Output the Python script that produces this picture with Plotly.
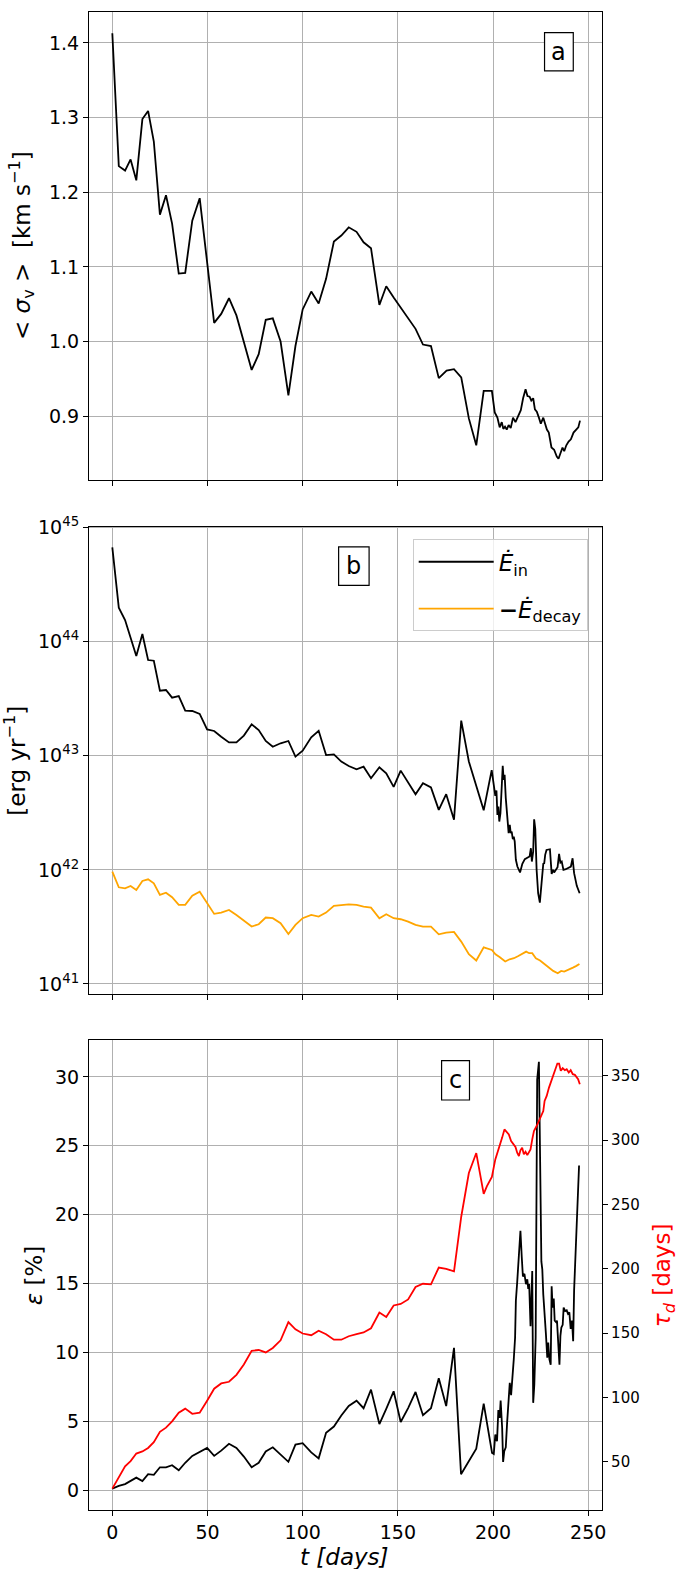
import numpy as np
import plotly.graph_objects as go

# ---------------- data ----------------
# (a) mean velocity dispersion [km/s]
t_sigma = [0, 3.4, 6.7, 9.6, 12.6, 15.8, 18.8, 21.8, 25.0, 28.2, 31.4, 34.9, 38.3, 42.0, 45.9,
           49.8, 53.5, 57.2, 61.3, 65.2, 69.1, 73.2, 76.9, 80.6, 84.3, 88.4, 92.5, 96.2, 100.0,
           104.5, 108.4, 112.3, 116.4, 120.3, 124.2, 128.3, 132.0, 135.9, 140.3, 143.9, 147.8,
           151.5, 155.4, 159.3, 163.2, 167.4, 171.5, 175.6, 179.5, 183.3, 187.3, 191.2, 195.1,
           199.4, 200.9, 202.3, 203.5, 204.6, 205.4, 206.3, 207.2, 208.2, 209.3, 210.5, 211.8,
           213.2, 214.6, 215.8, 217.1, 218.1, 219.2, 220.1, 221.1, 222.0, 223.0, 224.1, 225.1,
           226.4, 227.4, 228.3, 229.3, 230.7, 232.1, 233.5, 234.4, 235.7, 236.5, 237.4, 238.5,
           239.7, 240.9, 242.3, 244.1, 244.8, 245.7]
sigma_v = [1.413, 1.235, 1.229, 1.244, 1.216, 1.298, 1.309, 1.268, 1.170, 1.196, 1.158, 1.091,
           1.092, 1.162, 1.192, 1.103, 1.025, 1.037, 1.058, 1.035, 1.000, 0.962, 0.983, 1.029,
           1.031, 1.000, 0.928, 0.994, 1.043, 1.067, 1.051, 1.084, 1.134, 1.142, 1.153, 1.147,
           1.133, 1.125, 1.049, 1.074, 1.059, 1.045, 1.032, 1.017, 0.996, 0.994, 0.951, 0.961,
           0.963, 0.952, 0.897, 0.861, 0.934, 0.934, 0.905, 0.898, 0.885, 0.892, 0.883, 0.886,
           0.882, 0.888, 0.884, 0.898, 0.892, 0.900, 0.908, 0.924, 0.936, 0.927, 0.926, 0.921,
           0.924, 0.909, 0.906, 0.898, 0.890, 0.898, 0.889, 0.882, 0.878, 0.858, 0.855, 0.846,
           0.843, 0.854, 0.858, 0.853, 0.861, 0.866, 0.869, 0.878, 0.883, 0.885, 0.894]

# (b) energy injection rate, log10 [erg/yr]
t_ein = [0, 3.4, 6.7, 9.6, 12.6, 15.8, 18.8, 21.8, 25.0, 28.2, 31.4, 34.9, 38.3, 42.0, 45.9,
         49.8, 53.5, 57.2, 61.3, 65.2, 69.1, 73.2, 76.9, 80.6, 84.3, 88.4, 92.5, 96.2, 100.0,
         104.5, 108.4, 112.3, 116.4, 120.3, 124.2, 128.3, 132.0, 135.9, 140.3, 143.9, 147.8,
         151.5, 155.4, 159.3, 163.2, 167.4, 171.5, 175.4, 179.5, 183.3, 187.3, 191.2, 195.1,
         199.3, 200.7, 201.2, 201.8, 202.3, 202.8, 203.3, 203.9, 204.4, 205.1, 205.6, 206.1,
         206.7, 207.2, 207.9, 208.2, 208.8, 209.3, 209.8, 210.4, 210.9, 211.4, 212.0, 212.8,
         214.2, 215.4, 216.7, 218.1, 219.2, 219.9, 220.4, 221.1, 221.6, 222.2, 222.9, 223.7,
         224.6, 225.5, 226.4, 226.9, 227.4, 228.1, 229.0, 229.9, 230.8, 231.5, 232.1, 233.0,
         233.9, 234.7, 235.4, 236.1, 237.0, 238.2, 239.5, 240.9, 241.8, 242.6, 244.0, 245.5]
log_e_in = [44.828, 44.299, 44.191, 44.045, 43.875, 44.068, 43.840, 43.834, 43.571, 43.577,
            43.510, 43.524, 43.396, 43.393, 43.367, 43.232, 43.218, 43.168, 43.118, 43.118,
            43.177, 43.276, 43.226, 43.130, 43.080, 43.110, 43.130, 42.993, 43.045, 43.162,
            43.220, 43.007, 43.013, 42.949, 42.911, 42.882, 42.905, 42.803, 42.900, 42.847,
            42.728, 42.870, 42.770, 42.663, 42.760, 42.723, 42.526, 42.664, 42.440, 43.309,
            42.950, 42.730, 42.522, 42.874, 42.700, 42.649, 42.696, 42.482, 42.556, 42.424,
            42.497, 42.643, 42.912, 42.789, 42.833, 42.629, 42.541, 42.409, 42.322, 42.395,
            42.322, 42.336, 42.269, 42.292, 42.249, 42.088, 42.029, 41.977, 42.053, 42.094,
            42.111, 42.117, 42.190, 42.073, 42.161, 42.444, 42.357, 42.000, 41.795, 41.713,
            41.883, 42.053, 42.058, 42.132, 42.175, 42.181, 42.181, 41.965, 42.000, 41.977,
            42.006, 42.023, 42.140, 42.064, 42.073, 42.000, 42.006, 42.015, 42.029, 42.102,
            41.971, 41.860, 41.795]

# (b) turbulent energy decay rate, log10 [erg/yr]
t_decay = [0, 3.4, 6.7, 9.6, 12.6, 15.8, 18.8, 21.8, 25.0, 28.2, 31.4, 34.9, 38.3, 42.0, 45.9,
           49.8, 53.5, 57.2, 61.3, 65.2, 69.1, 73.2, 76.9, 80.6, 84.3, 88.4, 92.5, 96.2, 100.0,
           104.5, 108.4, 112.3, 116.4, 120.3, 124.2, 128.3, 132.0, 135.9, 140.3, 143.9, 147.8,
           151.5, 155.4, 159.3, 163.2, 167.4, 171.5, 175.4, 179.5, 183.3, 187.3, 191.2, 195.1,
           199.4, 201.3, 203.6, 206.4, 208.7, 211.0, 213.3, 215.6, 217.4, 219.0, 220.6, 222.5,
           224.7, 227.0, 229.3, 231.6, 234.0, 235.8, 237.4, 239.7, 242.0, 243.8, 245.4]
log_e_decay = [41.985, 41.847, 41.838, 41.859, 41.824, 41.903, 41.917, 41.882, 41.780, 41.800,
               41.760, 41.693, 41.693, 41.774, 41.809, 41.713, 41.614, 41.625, 41.649, 41.605,
               41.552, 41.503, 41.523, 41.582, 41.576, 41.532, 41.438, 41.517, 41.576, 41.605,
               41.590, 41.625, 41.684, 41.693, 41.698, 41.693, 41.678, 41.669, 41.576, 41.611,
               41.576, 41.567, 41.546, 41.517, 41.503, 41.503, 41.435, 41.450, 41.456, 41.371,
               41.260, 41.205, 41.321, 41.298, 41.260, 41.234, 41.196, 41.216, 41.225, 41.245,
               41.263, 41.283, 41.269, 41.269, 41.225, 41.205, 41.175, 41.146, 41.114, 41.093,
               41.114, 41.108, 41.129, 41.143, 41.158, 41.175]

# (c) efficiency [%]
t_eff = [0, 3.4, 6.7, 9.6, 12.6, 15.8, 18.8, 21.8, 25.0, 28.2, 31.4, 34.9, 38.3, 42.0, 45.9,
         49.8, 53.5, 57.2, 61.3, 65.2, 69.1, 73.2, 76.9, 80.6, 84.3, 88.4, 92.5, 96.2, 100.0,
         104.5, 108.4, 112.3, 116.4, 120.3, 124.2, 128.3, 132.0, 135.9, 140.3, 143.9, 147.8,
         151.5, 155.4, 159.3, 163.2, 167.4, 171.5, 175.4, 179.5, 183.2, 187.3, 191.2, 195.1,
         197.2, 199.5, 200.4, 201.2, 202.1, 202.8, 203.5, 204.0, 204.8, 205.3, 205.9, 206.7,
         207.4, 208.1, 208.8, 209.5, 210.2, 210.9, 211.6, 212.0, 212.7, 213.6, 214.4, 215.1,
         215.7, 216.5, 217.3, 218.0, 218.5, 219.0, 219.7, 220.2, 220.6, 221.1, 221.7, 222.4,
         223.2, 224.1, 224.7, 225.4, 225.9, 226.4, 227.8, 228.5, 229.0, 229.6, 230.3, 230.8,
         231.3, 231.9, 232.4, 233.1, 233.6, 234.3, 234.9, 235.4, 235.9, 236.6, 237.1, 237.9,
         238.7, 239.4, 240.1, 240.8, 241.5, 242.1, 242.6, 245.2]
efficiency = [0.1, 0.3, 0.43, 0.65, 0.9, 0.65, 1.15, 1.1, 1.65, 1.65, 1.8, 1.43, 1.98, 2.48,
              2.8, 3.06, 2.48, 2.86, 3.36, 3.06, 2.43, 1.65, 1.98, 2.8, 3.1, 2.6, 2.05, 3.3,
              3.4, 2.73, 2.3, 4.16, 4.61, 5.41, 6.11, 6.49, 5.94, 7.29, 4.79, 5.9, 7.17, 4.94,
              5.95, 7.12, 5.43, 5.94, 8.12, 6.1, 10.33, 1.15, 2.1, 3.0, 6.28, 4.51, 2.7, 2.62,
              4.03, 3.54, 5.8, 5.24, 6.5, 4.5, 2.04, 2.82, 3.11, 4.88, 6.7, 7.79, 6.89, 8.64,
              9.49, 11.07, 13.74, 15.1, 17.6, 18.83, 16.9, 15.5, 15.7, 14.95, 15.3, 14.6, 14.95,
              11.9, 14.0, 15.9, 6.33, 7.67, 11.07, 29.8, 31.1, 24.0, 16.6, 16.0, 14.2, 11.3,
              9.6, 10.7, 9.5, 9.1, 14.8, 13.25, 13.9, 12.3, 12.2, 12.3, 10.5, 9.1, 11.2, 11.8,
              12.0, 13.25, 13.0, 13.05, 12.8, 12.9, 11.7, 12.3, 10.8, 14.5, 23.57]

# (c) dissipation time [days]
t_tau = [0, 3.4, 6.7, 9.6, 12.6, 15.8, 18.8, 21.8, 25.0, 28.2, 31.4, 34.9, 38.3, 42.0, 45.9,
         49.8, 53.5, 57.2, 61.3, 65.2, 69.1, 73.2, 76.9, 80.6, 84.3, 88.4, 92.5, 96.2, 100.0,
         104.5, 108.4, 112.3, 116.4, 120.3, 124.2, 128.3, 132.0, 135.9, 140.3, 143.9, 147.8,
         151.5, 155.4, 159.3, 163.2, 167.4, 171.5, 175.4, 179.5, 183.3, 187.3, 191.2, 195.1,
         196.8, 199.4, 201.2, 203.0, 204.8, 206.0, 207.0, 208.3, 209.5, 210.6, 211.8, 212.7,
         213.6, 214.4, 215.3, 216.2, 217.1, 218.0, 218.8, 219.7, 220.6, 221.5, 222.9, 224.1,
         225.4, 226.4, 227.1, 228.2, 229.4, 230.6, 231.7, 232.7, 233.8, 234.7, 235.6, 236.6,
         237.7, 238.7, 239.8, 240.8, 241.9, 243.0, 244.0, 244.7, 245.6]
tau_d = [29.1, 38.5, 46.5, 50.5, 56.4, 58.0, 60.7, 65.3, 73.3, 76.5, 81.4, 88.1, 91.3, 87.3,
         88.1, 97.5, 106.8, 110.9, 112.2, 117.6, 125.6, 136.3, 136.9, 135.0, 138.5, 144.4,
         158.6, 153.0, 149.7, 148.4, 151.9, 149.2, 144.9, 144.9, 147.6, 149.2, 150.5, 153.8,
         166.0, 162.6, 171.5, 172.7, 176.2, 185.9, 188.4, 187.9, 201.0, 200.0, 198.0, 240.5,
         274.5, 290.0, 258.3, 264.3, 271.5, 285.1, 292.9, 302.0, 308.4, 306.6, 304.5, 299.4,
         296.8, 294.7, 290.3, 287.7, 292.1, 294.2, 289.0, 291.0, 288.4, 290.3, 292.9, 300.6,
         307.1, 311.0, 314.9, 318.8, 322.7, 330.5, 334.4, 340.9, 346.1, 350.0, 355.2, 359.6,
         359.6, 353.9, 356.0, 354.4, 355.2, 352.6, 354.4, 351.3, 350.8, 349.2, 347.4, 343.5]

# ---------------- style ----------------
FONT = "DejaVu Sans"
LW = 1.8
GRID = "#b0b0b0"
X_RANGE = [-12.25, 257.25]

fig = go.Figure()

fig.add_trace(go.Scatter(x=t_sigma, y=sigma_v, mode="lines", xaxis="x", yaxis="y",
                         line=dict(color="black", width=LW), showlegend=False))
fig.add_trace(go.Scatter(x=t_ein, y=np.power(10.0, log_e_in), mode="lines",
                         xaxis="x2", yaxis="y2", line=dict(color="black", width=LW),
                         name="<i>Ė</i><sub>in</sub>", legendgroup="in"))
fig.add_trace(go.Scatter(x=t_decay, y=np.power(10.0, log_e_decay), mode="lines",
                         xaxis="x2", yaxis="y2", line=dict(color="#FFA500", width=LW),
                         name="<b>−</b><i>Ė</i><sub>decay</sub>", legendgroup="decay"))
fig.add_trace(go.Scatter(x=t_eff, y=efficiency, mode="lines", xaxis="x3", yaxis="y3",
                         line=dict(color="black", width=LW), showlegend=False))
fig.add_trace(go.Scatter(x=t_tau, y=tau_d, mode="lines", xaxis="x3", yaxis="y4",
                         line=dict(color="#FF0000", width=LW), showlegend=False))

tickfont = dict(family=FONT, size=19, color="black")
common_axis = dict(showline=True, linecolor="black", linewidth=1.2, mirror=True,
                   ticks="outside", ticklen=5, tickwidth=1.2, tickcolor="black",
                   showgrid=True, gridcolor=GRID, gridwidth=1, zeroline=False,
                   tickfont=tickfont, automargin=False)

xcommon = dict(common_axis, range=X_RANGE, tickmode="array",
               tickvals=[0, 50, 100, 150, 200, 250])

fig.update_layout(
    width=682, height=1569,
    margin=dict(l=89, r=80, t=12, b=59, pad=0, autoexpand=False),
    paper_bgcolor="white", plot_bgcolor="white",
    font=dict(family=FONT, color="black"),
    xaxis=dict(xcommon, anchor="y", showticklabels=False),
    xaxis2=dict(xcommon, anchor="y2", showticklabels=False),
    xaxis3=dict(xcommon, anchor="y3", showticklabels=True),
    yaxis=dict(common_axis, domain=[0.6876, 1.0], anchor="x", range=[0.8145, 1.4415],
               tickmode="array", tickvals=[0.9, 1.0, 1.1, 1.2, 1.3, 1.4],
               ticktext=["0.9", "1.0", "1.1", "1.2", "1.3", "1.4"]),
    yaxis2=dict(common_axis, domain=[0.3445, 0.6564], anchor="x2", type="log",
                range=[40.912, 45.009], tickmode="array",
                tickvals=[1e41, 1e42, 1e43, 1e44, 1e45],
                ticktext=["10<sup>41</sup>", "10<sup>42</sup>", "10<sup>43</sup>",
                          "10<sup>44</sup>", "10<sup>45</sup>"]),
    yaxis3=dict(common_axis, domain=[0.0, 0.3135], anchor="x3", range=[-1.45, 32.65],
                tickmode="array", tickvals=[0, 5, 10, 15, 20, 25, 30]),
    yaxis4=dict(overlaying="y3", side="right", anchor="x3", range=[12.5, 377.6],
                tickmode="array", tickvals=[50, 100, 150, 200, 250, 300, 350],
                showline=True, linecolor="black", linewidth=1.2, ticks="outside",
                ticklen=5, tickwidth=1.2, tickcolor="black", showgrid=False,
                zeroline=False, automargin=False,
                tickfont=dict(family=FONT, size=15, color="black")),
    legend=dict(x=0.631, y=0.648, xanchor="left", yanchor="top",
                bgcolor="rgba(255,255,255,0.8)", bordercolor="#cccccc", borderwidth=1,
                font=dict(family=FONT, size=23, color="black"),
                itemwidth=75, tracegroupgap=14),
)

# panel tags in boxes
tags = [("a", "x domain", "y domain", 0.888, 0.944, 0.874, 0.956),
        ("b", "x2 domain", "y2 domain", 0.4866, 0.546, 0.8746, 0.957),
        ("c", "x3 domain", "y3 domain", 0.6873, 0.7417, 0.873, 0.957)]
for txt, xr, yr, x0, x1, y0, y1 in tags:
    fig.add_shape(type="rect", xref=xr, yref=yr, x0=x0, x1=x1, y0=y0, y1=y1,
                  line=dict(color="black", width=1.2), fillcolor="white", layer="above")
    fig.add_annotation(text=txt, xref=xr, yref=yr, x=(x0 + x1) / 2, y=(y0 + y1) / 2,
                       xanchor="center", yanchor="middle", showarrow=False,
                       font=dict(family=FONT, size=24, color="black"))

# axis titles
title_font = dict(family=FONT, size=23, color="black")
fig.add_annotation(text="< <i>σ</i><sub>v</sub> >  [km s<sup>−1</sup>]", xref="paper", yref="paper",
                   x=-0.1306, y=0.8438, textangle=-90, showarrow=False,
                   xanchor="center", yanchor="middle", font=title_font)
fig.add_annotation(text="[erg yr<sup>−1</sup>]", xref="paper", yref="paper",
                   x=-0.1435, y=0.5005, textangle=-90, showarrow=False,
                   xanchor="center", yanchor="middle", font=title_font)
fig.add_annotation(text="<i>ε</i> [%]", xref="paper", yref="paper",
                   x=-0.107, y=0.1568, textangle=-90, showarrow=False,
                   xanchor="center", yanchor="middle", font=title_font)
fig.add_annotation(text="<i>τ<sub>d</sub></i> [days]", xref="paper", yref="paper",
                   x=1.121, y=0.1568, textangle=-90, showarrow=False,
                   xanchor="center", yanchor="middle",
                   font=dict(family=FONT, size=23, color="#FF0000"))
fig.add_annotation(text="<i>t [days]</i>", xref="paper", yref="paper",
                   x=0.499, y=-0.0314, showarrow=False,
                   xanchor="center", yanchor="middle", font=title_font)

fig.write_html("out.html")
